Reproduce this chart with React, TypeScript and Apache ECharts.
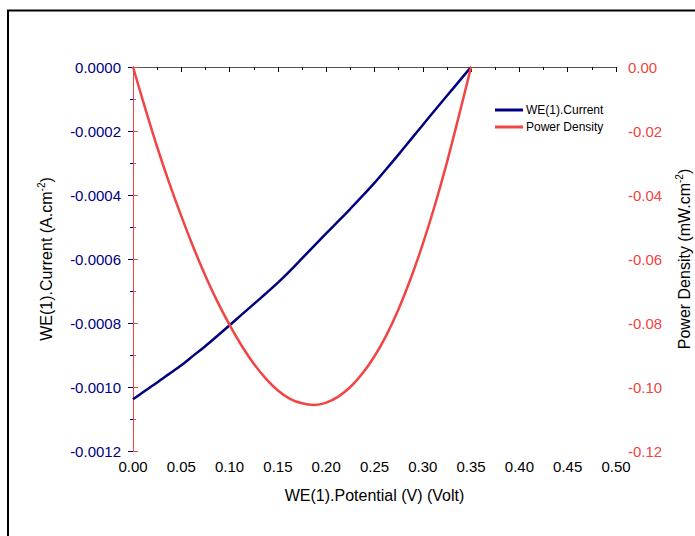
import React, { useEffect, useRef } from "react";
import * as echarts from "echarts";

// Potential (V) sample points shared by both curves
const potential = [
  0, 0.0125, 0.025, 0.0375, 0.05, 0.0625, 0.075, 0.0875, 0.1, 0.1125, 0.125, 0.1375, 0.15, 0.1625,
  0.175, 0.1875, 0.2, 0.2125, 0.225, 0.2375, 0.25, 0.2625, 0.275, 0.2875, 0.3, 0.3125, 0.325, 0.3375, 0.35,
];
// WE(1).Current (A.cm-2)
const currentValues = [
  -0.001038, -0.001012, -0.000986, -0.000959, -0.000932, -0.000902, -0.000872, -0.00084, -0.000807,
  -0.000774, -0.000741, -0.000708, -0.000674, -0.000637, -0.000598, -0.000559, -0.00052, -0.000482,
  -0.000443, -0.000403, -0.000362, -0.000318, -0.000273, -0.000227, -0.000181, -0.000135, -0.00009,
  -0.000045, 0,
];
// Power Density (mW.cm-2)
const powerValues = [
  0, -0.0128, -0.025, -0.0362, -0.0466, -0.0563, -0.0653, -0.0734, -0.0806, -0.0871, -0.0927,
  -0.0974, -0.1011, -0.1037, -0.1051, -0.1056, -0.1049, -0.103, -0.1, -0.0958, -0.0904, -0.0837,
  -0.0756, -0.0661, -0.0553, -0.0432, -0.0298, -0.0151, 0,
];

const xTicks = { min: 0, max: 0.5, interval: 0.05 };
const leftTicks = { min: -0.0012, max: 0, interval: 0.0002 };
const rightTicks = { min: -0.12, max: 0, interval: 0.02 };

const FONT = "'Liberation Sans', Arial, sans-serif";
const NAVY = "#000080";
const RED = "#f24444";

export default function App() {
  const ref = useRef<HTMLDivElement>(null);
  useEffect(() => {
    if (!ref.current) return;
    const chart = echarts.init(ref.current, undefined, { renderer: "svg" });
    const fmt = (d: number) => (v: number) => (Math.abs(v) < 1e-12 ? 0 : v).toFixed(d);
    const richName = {
      n: { fontSize: 16, fontFamily: FONT, color: "#000", lineHeight: 20 },
      s: { fontSize: 10, fontFamily: FONT, color: "#000", verticalAlign: "top" },
    };
    chart.setOption({
      animation: false,
      backgroundColor: "#fff",
      textStyle: { fontFamily: FONT },
      grid: {
        left: 133,
        top: 67,
        right: 79,
        bottom: 85,
        containLabel: false,
        outerBoundsMode: "none",
      },
      graphic: [
        {
          type: "rect",
          shape: { x: 8, y: 10.5, width: 720, height: 560 },
          style: { fill: "none", stroke: "#000", lineWidth: 2 },
          silent: true,
        },
      ],
      legend: {
        orient: "vertical",
        left: 490,
        top: 98,
        itemWidth: 28,
        itemHeight: 3,
        itemGap: 3,
        icon: "rect",
        textStyle: { fontSize: 12, fontFamily: FONT, color: "#000", lineHeight: 14, padding: [0, 0, 0, -2] },
        data: ["WE(1).Current", "Power Density"],
      },
      xAxis: [
        {
          type: "value",
          position: "bottom",
          min: xTicks.min,
          max: xTicks.max,
          interval: xTicks.interval,
          name: "WE(1).Potential (V) (Volt)",
          nameLocation: "middle",
          nameGap: 36,
          nameTextStyle: { fontSize: 16, fontFamily: FONT, color: "#000" },
          axisLine: { show: true, lineStyle: { color: "#000", width: 1 } },
          axisTick: { show: true, inside: false, length: 5, lineStyle: { color: "#000" } },
          minorTick: { show: true, splitNumber: 2, length: 3, lineStyle: { color: "#000" } },
          axisLabel: { formatter: fmt(2), fontSize: 15, fontFamily: FONT, color: "#000", margin: 8 },
          splitLine: { show: false },
        },
        {
          type: "value",
          position: "top",
          min: xTicks.min,
          max: xTicks.max,
          axisLine: { show: true, lineStyle: { color: "#555", width: 1 } },
          axisTick: { show: false },
          axisLabel: { show: false },
          splitLine: { show: false },
        },
      ],
      yAxis: [
        {
          type: "value",
          position: "left",
          min: leftTicks.min,
          max: leftTicks.max,
          interval: leftTicks.interval,
          name: "{n|WE(1).Current (A.cm}{s|-2}{n|)}",
          nameLocation: "middle",
          nameRotate: 90,
          nameGap: 77,
          nameTextStyle: { fontSize: 16, fontFamily: FONT, color: "#000", rich: richName },
          axisLine: { show: true, lineStyle: { color: NAVY, width: 1 } },
          axisTick: { show: true, inside: false, length: 5, lineStyle: { color: NAVY } },
          minorTick: { show: true, splitNumber: 2, length: 3, lineStyle: { color: NAVY } },
          axisLabel: { formatter: fmt(4), fontSize: 15, fontFamily: FONT, color: NAVY, margin: 12 },
          splitLine: { show: false },
        },
        {
          type: "value",
          position: "right",
          min: rightTicks.min,
          max: rightTicks.max,
          interval: rightTicks.interval,
          name: "{n|Power Density (mW.cm}{s|-2}{n|)}",
          nameLocation: "middle",
          nameRotate: 90,
          nameGap: 58,
          nameTextStyle: { fontSize: 16, fontFamily: FONT, color: "#000", rich: richName },
          axisLine: { show: true, lineStyle: { color: RED, width: 1 } },
          axisTick: { show: true, inside: false, length: 5, lineStyle: { color: RED } },
          minorTick: { show: true, splitNumber: 2, length: 3, lineStyle: { color: RED } },
          axisLabel: { formatter: fmt(2), fontSize: 15, fontFamily: FONT, color: RED, margin: 12 },
          splitLine: { show: false },
        },
      ],
      series: [
        {
          name: "WE(1).Current",
          type: "line",
          xAxisIndex: 0,
          yAxisIndex: 0,
          data: potential.map((v, i) => [v, currentValues[i]]),
          showSymbol: false,
          symbol: "none",
          smooth: 0.3,
          lineStyle: { color: NAVY, width: 2.5 },
          itemStyle: { color: NAVY },
          z: 3,
        },
        {
          name: "Power Density",
          type: "line",
          xAxisIndex: 0,
          yAxisIndex: 1,
          data: potential.map((v, i) => [v, powerValues[i]]),
          showSymbol: false,
          symbol: "none",
          smooth: 0.3,
          lineStyle: { color: RED, width: 2.5 },
          itemStyle: { color: RED },
          z: 4,
        },
      ],
    });
    return () => chart.dispose();
  }, []);
  return (
    <div
      ref={ref}
      style={{ position: "fixed", left: 0, top: 0, width: 695, height: 536 }}
    />
  );
}
